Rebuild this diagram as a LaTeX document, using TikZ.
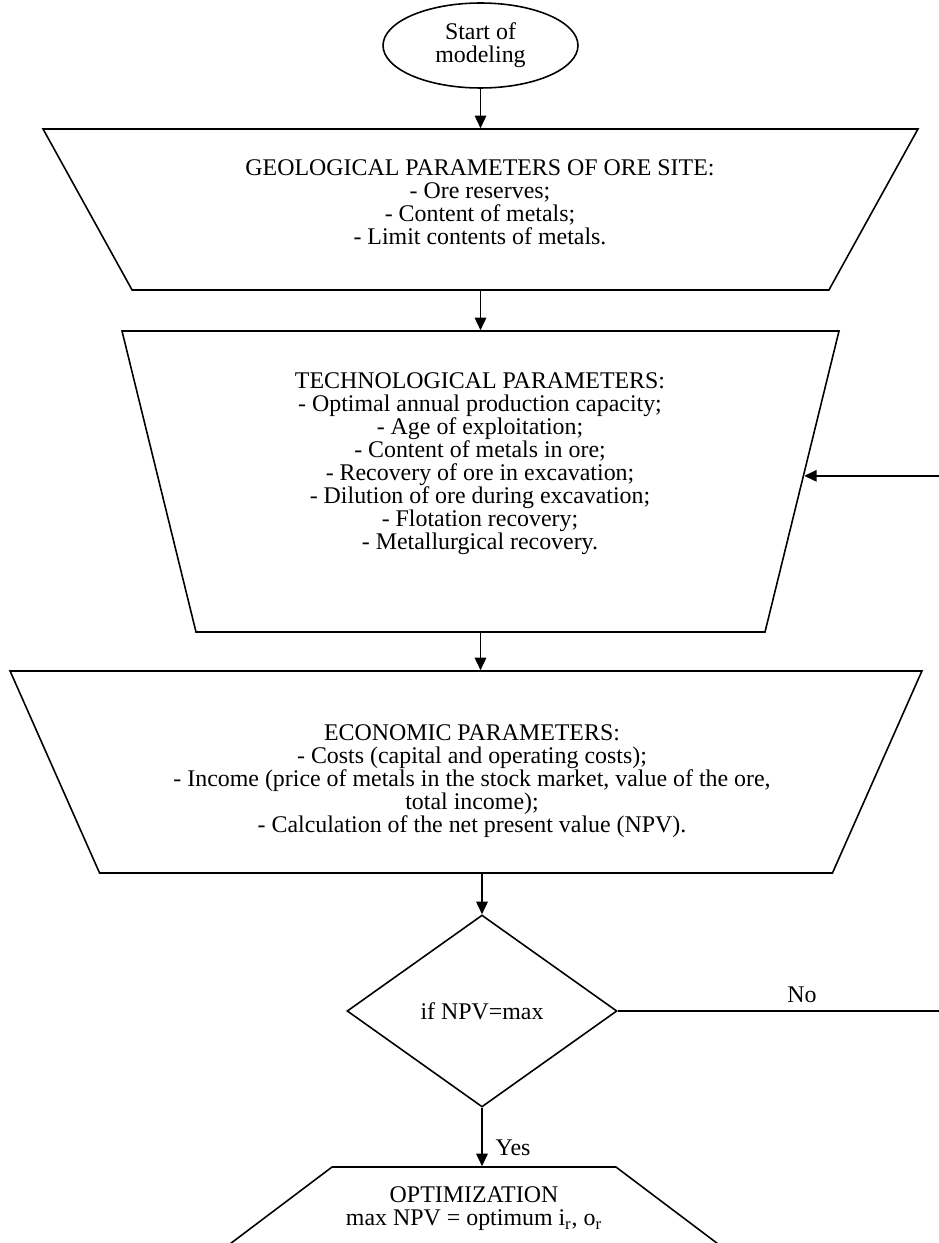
\documentclass[tikz,border=0pt]{standalone}
\usepackage{fontspec}
\setmainfont{Liberation Serif}
\usetikzlibrary{shapes.geometric,arrows.meta}
\begin{document}
\begin{tikzpicture}[x=0.02cm,y=-0.02cm,line width=0.9pt,
  font=\fontsize{13.6}{13.1}\selectfont,
  trap/.style={draw,trapezium,trapezium stretches=true,inner sep=2pt},
  arr/.style={-{Triangle[length=0.25cm,width=0.23cm]}}]
\useasboundingbox (0,0) rectangle (939,1243);
\node[draw,ellipse,minimum width=3.9cm,minimum height=1.7cm,align=center,inner sep=0pt] (St) at (480.5,45.5) {Start of\\modeling};
\node[trap,trapezium angle=82.72,shape border rotate=180,minimum width=17.5cm,minimum height=3.22cm] (Geo) at (480.5,209.5) {};
\node[trap,trapezium angle=82.59,shape border rotate=180,minimum width=14.34cm,minimum height=6.02cm] (Tech) at (480.5,481.5) {};
\node[trap,trapezium angle=83.04,shape border rotate=180,minimum width=18.24cm,minimum height=4.04cm] (Eco) at (466,772) {};
\node[draw,diamond,aspect=1.4,minimum width=5.4cm,minimum height=3.84cm,inner sep=2pt] (Dec) at (482,1011) {if NPV=max};
\node[trap,trapezium angle=68.57,minimum width=10.14cm,minimum height=1.68cm] (Opt) at (474,1209) {};

\draw node[align=center] (GeoTxt) at (480,202) {GEOLOGICAL PARAMETERS OF ORE SITE:\\- Ore reserves;\\- Content of metals;\\- Limit contents of metals.};
\draw node[align=center] (TechTxt) at (480,464) {TECHNOLOGICAL PARAMETERS:\\- Optimal annual production capacity;\\- Age of exploitation;\\- Content of metals in ore;\\- Recovery of ore in excavation;\\- Dilution of ore during excavation;\\- Flotation recovery;\\- Metallurgical recovery.};
\draw node[align=center] (EcoTxt) at (472,781) {ECONOMIC PARAMETERS:\\- Costs (capital and operating costs);\\- Income (price of metals in the stock market, value of the ore,\\total income);\\- Calculation of the net present value (NPV).};
\draw node[align=center] (OptTxt) at (474,1209) {OPTIMIZATION\\max NPV = optimum i\textsubscript{r}, o\textsubscript{r}};

\coordinate (Back) at (941,1012);
\draw[arr] (St) -- (Geo);
\draw[arr] (Geo) -- (Tech);
\draw[arr] (Tech.-90) -- (Tech.-90 |- Eco.90);
\draw[arr] (Eco.-90 -| Dec) -- (Dec);
\draw[arr] (Dec) -- (Dec |- Opt.90) node[pos=0.68,right=4pt] (Yes) {Yes};
\draw (Dec.east) -- node[pos=0.57,above=1pt] (No) {No} (Dec.east -| Back);
\draw[arr] (Dec.east -| Back) |- (Tech.1);
\end{tikzpicture}
\end{document}
